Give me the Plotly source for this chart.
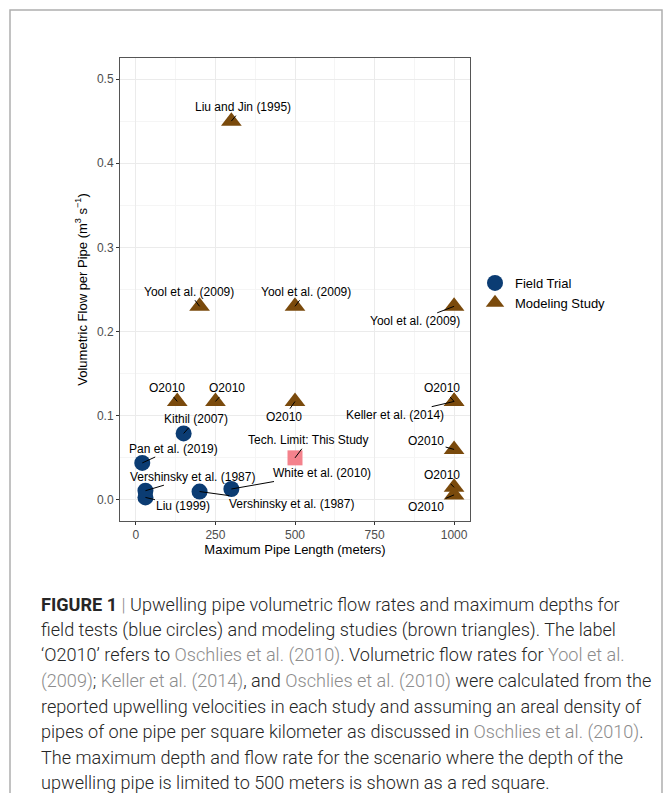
import plotly.graph_objects as go

# ---- data -------------------------------------------------------------
field_x = [150, 20, 30, 30, 200, 300]
field_y = [0.079, 0.044, 0.011, 0.003, 0.010, 0.013]
field_labels = ["Kithil (2007)", "Pan et al. (2019)", "Vershinsky et al. (1987)",
                "Liu (1999)", "Vershinsky et al. (1987)", "White et al. (2010)"]

model_x = [300, 200, 500, 1000, 130, 250, 500, 1000, 1000, 1000, 1000, 1000]
model_y = [0.45, 0.23, 0.23, 0.23, 0.117, 0.117, 0.117, 0.117, 0.117, 0.060, 0.015, 0.006]
model_labels = ["Liu and Jin (1995)", "Yool et al. (2009)", "Yool et al. (2009)",
                "Yool et al. (2009)", "O2010", "O2010", "O2010", "O2010",
                "Keller et al. (2014)", "O2010", "O2010", "O2010"]

study_x = [500]
study_y = [0.05]
study_labels = ["Tech. Limit: This Study"]

x_ticks = [0, 250, 500, 750, 1000]
y_ticks = [0.0, 0.1, 0.2, 0.3, 0.4, 0.5]

# pixel offsets of each repelled label from its point (dx, dy)
field_offsets = [(12.5, -14), (31.6, -14.4), (47, -14), (38, 9), (91.5, 12.6), (91, -16)]
model_offsets = [(11.5, -14), (-11, -14.6), (11, -14.6), (-39, 15), (-10.6, -13),
                 (11.5, -13), (-11, 15.7), (-11.7, -13), (-59, 13.7), (-28, -8),
                 (-11.7, -12), (-28, 11.6)]
study_offsets = [(13.3, -17.6)]

# ---- figure geometry --------------------------------------------------
W, H = 663, 793
L, R, T, B = 120, 193, 58, 272
PW, PH = W - L - R, H - T - B


def px(x):
    return (x - L) / PW


def py(y):
    return (H - B - y) / PH


FONT = "Liberation Sans, Arial, Helvetica, sans-serif"
BLUE = "#0B3C73"
BROWN = "#7A4A0C"
PINK = "#F4828C"

fig = go.Figure()

fig.add_trace(go.Scatter(
    x=field_x, y=field_y, mode="markers", name="Field Trial",
    marker=dict(symbol="circle", size=16, color=BLUE, line=dict(width=0)),
))
fig.add_trace(go.Scatter(
    x=model_x, y=model_y, mode="markers", name="Modeling Study",
    marker=dict(symbol="triangle-up", size=18, color=BROWN, line=dict(width=0)),
))
fig.add_trace(go.Scatter(
    x=study_x, y=study_y, mode="markers", name="This Study", showlegend=False,
    marker=dict(symbol="square", size=15, color=PINK, line=dict(width=0)),
))

annotations = []
for xs, ys, labs, offs in [(field_x, field_y, field_labels, field_offsets),
                           (model_x, model_y, model_labels, model_offsets),
                           (study_x, study_y, study_labels, study_offsets)]:
    for xv, yv, lab, (dx, dy) in zip(xs, ys, labs, offs):
        annotations.append(dict(
            x=xv, y=yv, xref="x", yref="y", text=lab,
            showarrow=True, arrowhead=0, arrowwidth=1, arrowcolor="black",
            ax=dx, ay=dy, standoff=0,
            font=dict(family=FONT, size=12, color="black"),
        ))

# caption below the chart
GRAY = "#8C8C8C"


def ref(t):
    return f'<span style="color:{GRAY}">{t}</span>'


caption = [
    f'<b>FIGURE 1</b> {ref("|")} Upwelling pipe volumetric flow rates and maximum depths for',
    "field tests (blue circles) and modeling studies (brown triangles). The label",
    f"\u2018O2010\u2019 refers to {ref('Oschlies et al. (2010)')}. Volumetric flow rates for {ref('Yool et al.')}",
    f"{ref('(2009)')}; {ref('Keller et al. (2014)')}, and {ref('Oschlies et al. (2010)')} were calculated from the",
    "reported upwelling velocities in each study and assuming an areal density of",
    f"pipes of one pipe per square kilometer as discussed in {ref('Oschlies et al. (2010)')}.",
    "The maximum depth and flow rate for the scenario where the depth of the",
    "upwelling pipe is limited to 500 meters is shown as a red square.",
]
for i, line in enumerate(caption):
    annotations.append(dict(
        xref="paper", yref="paper", x=px(39), y=py(604 + 25.5 * i),
        xanchor="left", yanchor="middle", showarrow=False, text=line,
        font=dict(family="Roboto, Liberation Sans, sans-serif", size=18.1,
                  color="#262626", weight=300),
    ))

fig.update_layout(
    width=W, height=H,
    margin=dict(l=L, r=R, t=T, b=B, pad=0),
    paper_bgcolor="white", plot_bgcolor="white",
    font=dict(family=FONT, size=12, color="black"),
    annotations=annotations,
    showlegend=True,
    legend=dict(
        x=px(475), y=py(293), xanchor="left", yanchor="middle",
        font=dict(family=FONT, size=13, color="black"),
        bgcolor="rgba(0,0,0,0)", tracegroupgap=0,
    ),
    shapes=[
        # outer figure frame
        dict(type="rect", xref="paper", yref="paper",
             x0=px(10), x1=px(662), y0=py(10), y1=py(820),
             line=dict(color="#AFAFAF", width=1.5), layer="below"),
    ],
)

fig.update_xaxes(
    range=[-50, 1050], tickvals=x_ticks, ticktext=[str(v) for v in x_ticks],
    showgrid=True, gridcolor="#EBEBEB", gridwidth=1,
    minor=dict(showgrid=True, gridcolor="#F5F5F5", gridwidth=1, dtick=125, tick0=125),
    ticks="outside", ticklen=3, tickcolor="#333333", tickwidth=1,
    tickfont=dict(family=FONT, size=12, color="#4D4D4D"),
    showline=True, linecolor="#555555", linewidth=1, mirror=True, zeroline=False,
    title=dict(text="Maximum Pipe Length (meters)", standoff=2,
               font=dict(family=FONT, size=13, color="black")),
)
fig.update_yaxes(
    range=[-0.025, 0.525], tickvals=y_ticks, ticktext=[f"{v:.1f}" for v in y_ticks],
    showgrid=True, gridcolor="#EBEBEB", gridwidth=1,
    minor=dict(showgrid=True, gridcolor="#F5F5F5", gridwidth=1, dtick=0.1, tick0=0.05),
    ticks="outside", ticklen=3, tickcolor="#333333", tickwidth=1,
    tickfont=dict(family=FONT, size=12, color="#4D4D4D"),
    showline=True, linecolor="#555555", linewidth=1, mirror=True, zeroline=False,
    title=dict(text="Volumetric Flow per Pipe (m<sup>3</sup> s<sup>\u22121</sup>)", standoff=6,
               font=dict(family=FONT, size=13, color="black")),
)

fig.write_html("out.html")
